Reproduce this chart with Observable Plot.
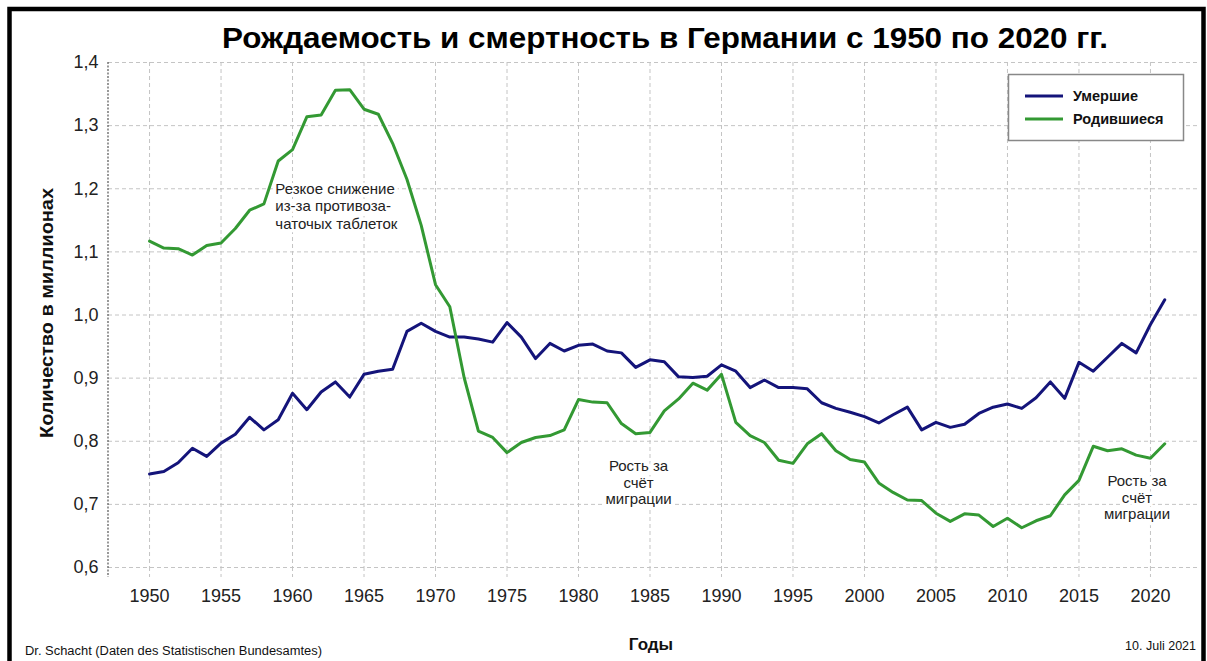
<!DOCTYPE html>
<html><head><meta charset="utf-8">
<script src="https://cdn.jsdelivr.net/npm/d3@7"></script>
<script src="https://cdn.jsdelivr.net/npm/@observablehq/plot@0.6"></script>
<style>html,body{margin:0;padding:0;background:#fff;} svg{display:block}</style>
</head><body><div id="chart"></div>
<script>
const years = d3.range(1950, 2022);
const deaths = [0.748,0.752,0.766,0.789,0.776,0.797,0.811,0.838,0.818,0.834,
  0.876,0.850,0.878,0.894,0.870,0.906,0.911,0.914,0.974,0.987,
  0.974,0.965,0.965,0.962,0.957,0.988,0.965,0.931,0.955,0.943,
  0.952,0.954,0.943,0.940,0.917,0.929,0.926,0.902,0.901,0.903,
  0.921,0.911,0.885,0.897,0.885,0.885,0.883,0.861,0.852,0.846,
  0.839,0.829,0.842,0.854,0.818,0.830,0.822,0.827,0.844,0.854,
  0.859,0.852,0.869,0.894,0.868,0.925,0.911,0.933,0.955,0.940,
  0.985,1.024];
const births = [1.117,1.106,1.105,1.095,1.110,1.114,1.137,1.166,1.176,1.244,
  1.262,1.314,1.317,1.356,1.357,1.326,1.318,1.272,1.215,1.142,
  1.048,1.013,0.901,0.816,0.806,0.782,0.798,0.806,0.809,0.818,
  0.866,0.862,0.861,0.828,0.812,0.814,0.848,0.867,0.892,0.881,
  0.906,0.830,0.809,0.798,0.770,0.765,0.796,0.812,0.785,0.771,
  0.767,0.734,0.719,0.707,0.706,0.686,0.673,0.685,0.683,0.665,
  0.678,0.663,0.674,0.682,0.715,0.738,0.792,0.785,0.788,0.778,
  0.773,0.796];
const xTicks = [1950,1955,1960,1965,1970,1975,1980,1985,1990,1995,2000,2005,2010,2015,2020];
const yTicks = [0.6,0.7,0.8,0.9,1.0,1.1,1.2,1.3,1.4];
const seriesNames = ["Умершие", "Родившиеся"];
const seriesColors = ["#14147a", "#339933"];
const titleText = "Рождаемость и смертность в Германии с 1950 по 2020 гг.";
const yLabel = "Количество в миллионах";
const xLabel = "Годы";
const sourceText = "Dr. Schacht (Daten des Statistischen Bundesamtes)";
const dateText = "10. Juli 2021";
const noteLeft = [{year: 1958.8, value: 1.173, text: "Резкое снижение\nиз-за противоза-\nчаточых таблеток"}];
const noteMid = [
  {year: 1984.2, value: 0.735, text: "Рость за\nсчёт\nмиграции"},
  {year: 2019.06, value: 0.711, text: "Рость за\nсчёт\nмиграции"}
];

const deathRows = years.map((y, i) => ({year: y, value: deaths[i]}));
const birthRows = years.map((y, i) => ({year: y, value: births[i]}));
const font = "'Liberation Sans', Arial, Helvetica, sans-serif";
const grid = "#c4c4c4";

const chart = Plot.plot({
  width: 1207, height: 661,
  marginTop: 62, marginBottom: 94, marginLeft: 108, marginRight: 7,
  style: {fontFamily: font, background: "white", overflow: "visible"},
  x: {domain: [1947.13, 2023.5], label: null},
  y: {domain: [0.6, 1.4], label: null},
  marks: [
    Plot.gridY(yTicks, {stroke: grid, strokeOpacity: 1, strokeDasharray: "4,3"}),
    Plot.gridX(xTicks, {stroke: grid, strokeOpacity: 1, strokeDasharray: "4,3"}),
    Plot.axisX({ticks: xTicks, tickSize: 10, text: null, stroke: grid, strokeDasharray: "4,3", label: null}),
    Plot.axisX({ticks: xTicks, tickSize: 0, tickPadding: 22, fontSize: 18, fill: "#222", tickFormat: d => String(d), label: null}),
    Plot.axisY({ticks: yTicks, tickSize: 0, tickPadding: 10, fontSize: 18, fill: "#222", tickFormat: d => d.toFixed(1).replace(".", ","), label: null}),
    Plot.text(noteLeft, {x: "year", y: "value", text: "text", textAnchor: "start", fontSize: 15, lineHeight: 1.17, fill: "#222", stroke: "white", strokeWidth: 7}),
    Plot.text(noteMid, {x: "year", y: "value", text: "text", textAnchor: "middle", fontSize: 15, lineHeight: 1.1, fill: "#222", stroke: "white", strokeWidth: 7}),
    Plot.line(deathRows, {x: "year", y: "value", stroke: seriesColors[0], strokeWidth: 3}),
    Plot.line(birthRows, {x: "year", y: "value", stroke: seriesColors[1], strokeWidth: 3})
  ]
});

const svg = d3.select(chart);
const xr = chart.scale("x").range, yr = chart.scale("y").range;
// left dotted axis line
svg.append("line").attr("x1", xr[0]).attr("x2", xr[0]).attr("y1", Math.min(...yr)).attr("y2", Math.max(...yr) + 10)
  .attr("stroke", "#555").attr("stroke-dasharray", "2,1.5").attr("stroke-width", 1.2);
// title
svg.append("text").attr("x", 665).attr("y", 48).attr("text-anchor", "middle")
  .attr("font-family", font).attr("font-weight", "bold").attr("font-size", 30)
  .attr("textLength", 886).attr("lengthAdjust", "spacingAndGlyphs").attr("fill", "#000").text(titleText);
// y label
svg.append("text").attr("transform", "translate(53,313) rotate(-90)").attr("text-anchor", "middle")
  .attr("font-family", font).attr("font-weight", "bold").attr("font-size", 19)
  .attr("textLength", 250).attr("lengthAdjust", "spacingAndGlyphs").attr("fill", "#111").text(yLabel);
// x label
svg.append("text").attr("x", 651).attr("y", 650).attr("text-anchor", "middle")
  .attr("font-family", font).attr("font-weight", "bold").attr("font-size", 17).attr("fill", "#111").text(xLabel);
// footer
svg.append("text").attr("x", 25).attr("y", 655).attr("text-anchor", "start")
  .attr("font-family", font).attr("font-size", 12).attr("textLength", 297).attr("lengthAdjust", "spacingAndGlyphs")
  .attr("fill", "#111").text(sourceText);
svg.append("text").attr("x", 1196).attr("y", 650).attr("text-anchor", "end")
  .attr("font-family", font).attr("font-size", 12.5).attr("fill", "#111").text(dateText);
// legend
const lg = svg.append("g");
lg.append("rect").attr("x", 1008.5).attr("y", 74.5).attr("width", 175).attr("height", 66)
  .attr("fill", "white").attr("stroke", "#888").attr("stroke-width", 1.5);
seriesNames.forEach((name, i) => {
  const cy = 96 + i * 23;
  lg.append("line").attr("x1", 1025).attr("x2", 1063).attr("y1", cy).attr("y2", cy)
    .attr("stroke", seriesColors[i]).attr("stroke-width", 3);
  lg.append("text").attr("x", 1073).attr("y", cy + 5).attr("text-anchor", "start").attr("font-family", font)
    .attr("font-weight", "bold").attr("font-size", 14.5).attr("fill", "#111").text(name);
});
// outer border
svg.append("rect").attr("x", 9.5).attr("y", 9).attr("width", 1194).attr("height", 700)
  .attr("fill", "none").attr("stroke", "#000").attr("stroke-width", 4.5);

document.getElementById("chart").appendChild(chart);
</script>
</body></html>
